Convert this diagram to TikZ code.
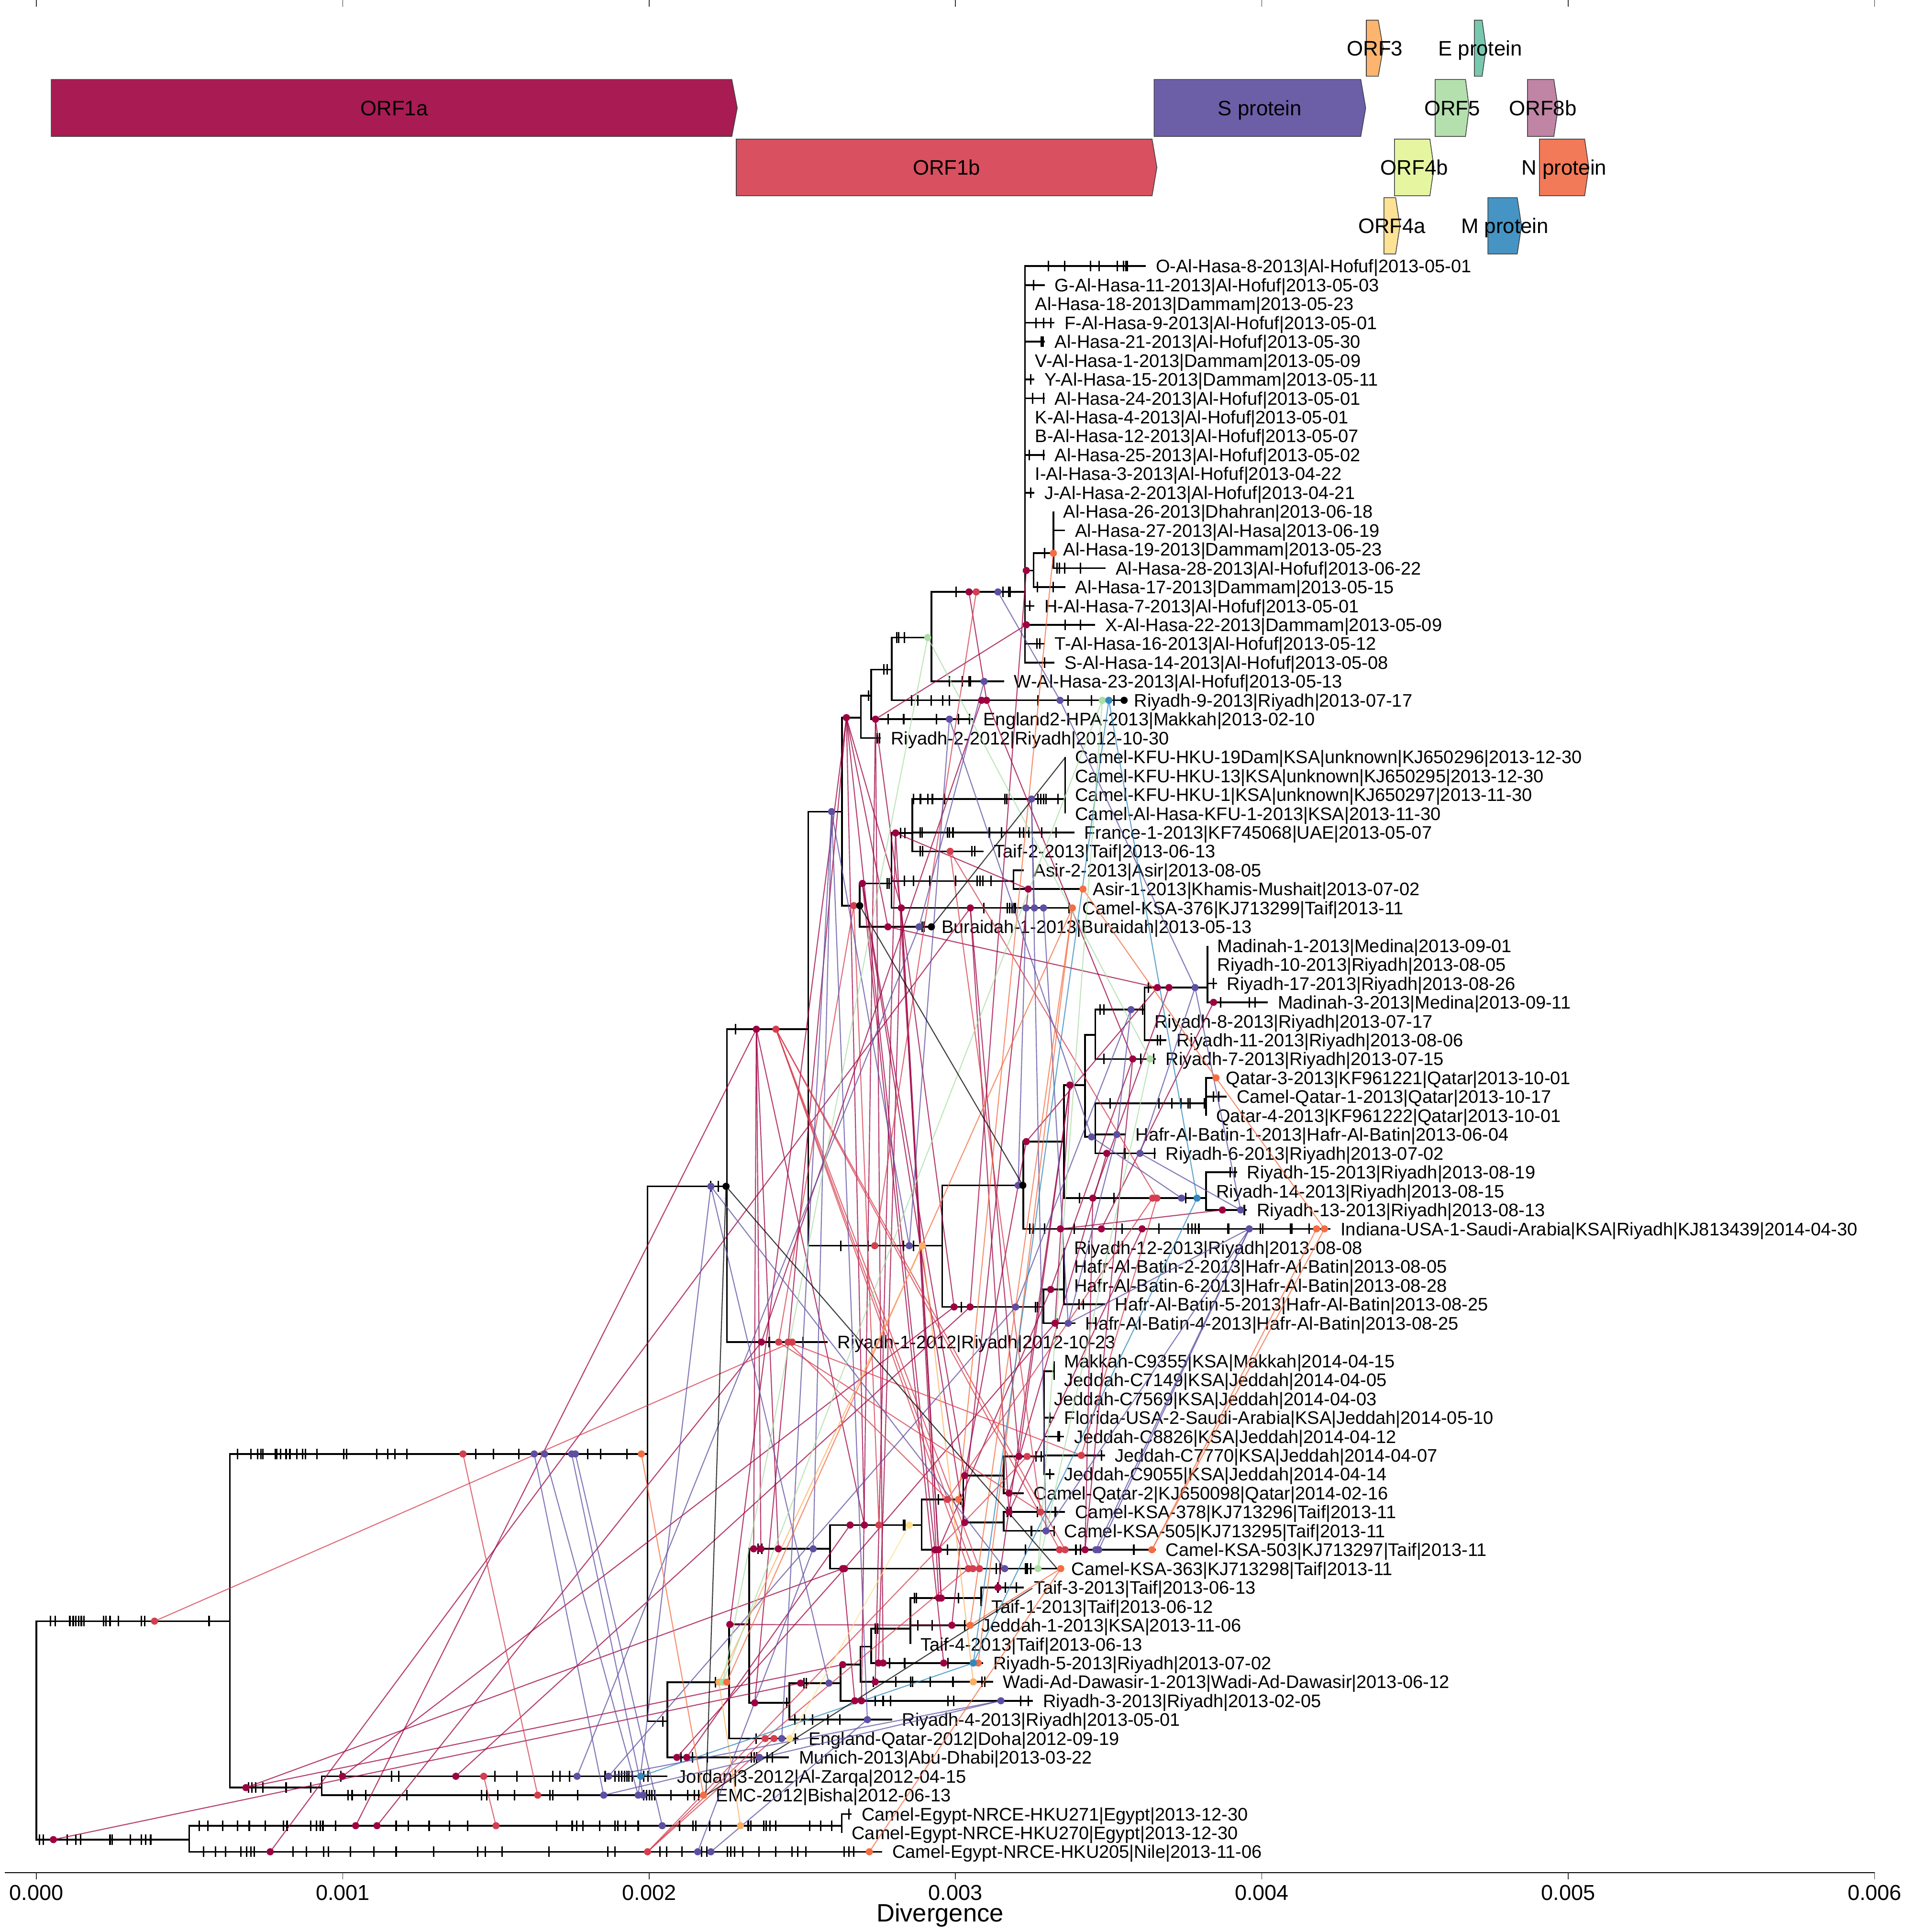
\documentclass[tikz,border=0pt]{standalone}
\usepackage{fontspec}
\setmainfont{Liberation Sans}
\definecolor{cA}{HTML}{9E0142}
\definecolor{cB}{HTML}{D53E4F}
\definecolor{cN}{HTML}{F46D43}
\definecolor{cO3}{HTML}{FDAE61}
\definecolor{cO4a}{HTML}{FEE08B}
\definecolor{cO5}{HTML}{ABDDA4}
\definecolor{cE}{HTML}{66C2A5}
\definecolor{cM}{HTML}{3288BD}
\definecolor{cS}{HTML}{5E4FA2}
\definecolor{gORFa}{HTML}{A81B53}
\definecolor{gORFb}{HTML}{D95060}
\definecolor{gS}{HTML}{6C5FA8}
\definecolor{gORFthree}{HTML}{FCB46E}
\definecolor{gE}{HTML}{78C8AF}
\definecolor{gORFfive}{HTML}{B4E0AE}
\definecolor{gORFeight}{HTML}{C084A4}
\definecolor{gORFfourb}{HTML}{E6F5A0}
\definecolor{gN}{HTML}{F27A58}
\definecolor{gORFfoura}{HTML}{FDE296}
\definecolor{gM}{HTML}{4694C4}
\newcommand\tks[2]{\foreach \xx in {#2}{\draw[tk] (\xx,#1-4.3) -- (\xx,#1+4.3);}}
\newcommand\genebox[8]{\draw[gene,fill=#2] (#3,#6) -- (#4,#6) -- (#5,{(#6+#7)/2}) -- (#4,#7) -- (#3,#7) -- cycle;
  \node[glab] (#1) at ({(#3+#5)/2},{(#6+#7)/2+6.1}) {#8};}
\begin{document}
\begin{tikzpicture}[x=1pt,y=-1pt,
  br/.style={line width=1.4pt},
  tk/.style={line width=1.2pt},
  tl/.style={anchor=base west, inner sep=0pt, xshift=8pt, yshift=-5.3pt, font=\fontsize{14.75}{16}\selectfont},
  ln/.style={draw=#1, line width=0.85pt, opacity=0.75},
  gene/.style={draw=black!75, line width=0.6pt},
  glab/.style={font=\fontsize{17}{19}\selectfont, anchor=base, inner sep=0pt},
  axl/.style={font=\fontsize{17.5}{19}\selectfont, anchor=base, inner sep=0pt}
]
\useasboundingbox (0,0) rectangle (1546,1568);
% ---------------- gene map
\genebox{gA}{gORFa}{41.6}{594}{598.4}{64.5}{110.7}{ORF1a}
\genebox{gB}{gORFb}{597.6}{935.1}{939}{112.9}{158.9}{ORF1b}
\genebox{gSp}{gS}{936.7}{1104.5}{1108.5}{64.5}{110.7}{S protein}
\draw[gene,fill=gORFthree] (1109,16.4) -- (1118.7,16.4) -- (1122.7,39.15) -- (1118.7,61.9) -- (1109,61.9) -- cycle;
\draw[gene,fill=gE] (1196.7,16.4) -- (1203,16.4) -- (1206.2,39.15) -- (1203,61.9) -- (1196.7,61.9) -- cycle;
\draw[gene,fill=gORFfive] (1164.9,64.5) -- (1189.5,64.5) -- (1192.5,87.6) -- (1189.5,110.7) -- (1164.9,110.7) -- cycle;
\draw[gene,fill=gORFeight] (1239.8,64.5) -- (1261.2,64.5) -- (1264.7,87.6) -- (1261.2,110.7) -- (1239.8,110.7) -- cycle;
\draw[gene,fill=gORFfourb] (1131.9,112.9) -- (1160.6,112.9) -- (1163.9,135.9) -- (1160.6,158.9) -- (1131.9,158.9) -- cycle;
\draw[gene,fill=gN] (1249.5,112.9) -- (1286.2,112.9) -- (1289.6,135.9) -- (1286.2,158.9) -- (1249.5,158.9) -- cycle;
\draw[gene,fill=gORFfoura] (1123.3,160.4) -- (1132.8,160.4) -- (1136.3,183.25) -- (1132.8,206.1) -- (1123.3,206.1) -- cycle;
\draw[gene,fill=gM] (1207.7,160.4) -- (1231.5,160.4) -- (1235,183.25) -- (1231.5,206.1) -- (1207.7,206.1) -- cycle;
\node[glab] (gO3) at (1115.9,45.3) {ORF3};
\node[glab] (gEp) at (1201.4,45.3) {E protein};
\node[glab] (gO5) at (1178.7,93.7) {ORF5};
\node[glab] (gO8) at (1252.3,93.7) {ORF8b};
\node[glab] (gO4b) at (1147.9,142) {ORF4b};
\node[glab] (gNp) at (1269.6,142) {N protein};
\node[glab] (gO4a) at (1129.8,189.4) {ORF4a};
\node[glab] (gMp) at (1221.4,189.4) {M protein};
% ---------------- axis
\draw[line width=0.8pt] (4,1520) -- (1521.6,1520);
\foreach \ax/\al in {29.5/0.000,278.2/0.001,526.9/0.002,775.5/0.003,1024.2/0.004,1272.9/0.005,1521.6/0.006}{
  \draw[line width=0.6pt,black!80] (\ax,1520) -- (\ax,1525.4);
  \draw[line width=0.6pt,black!80] (\ax,0) -- (\ax,5.4);
  \node[axl] at (\ax,1542) {\al};}
\node[font=\fontsize{20.4}{22}\selectfont, anchor=base, inner sep=0pt] (xlab) at (763,1559.5) {Divergence};
% ---------------- internal nodes
\coordinate (root) at (29.5,1404);
\coordinate (nA) at (186.6,1315.7);
\coordinate (nEg) at (153.6,1493);
\coordinate (nJE) at (261.2,1450.8);
\coordinate (nEgb) at (683.2,1481.7);
\coordinate (nB) at (525.6,1180);
\coordinate (nC) at (590,962.8);
\coordinate (nD) at (541.6,1397);
\coordinate (nE) at (656,835.3);
\coordinate (nF) at (683.4,658.7);
\coordinate (nG) at (764.7,1011);
\coordinate (nH) at (698.8,582.4);
\coordinate (nI) at (707,564.6);
\coordinate (nJ) at (723.7,543.4);
\coordinate (nK) at (756,517.4);
\coordinate (nAH) at (832,480.4);
\coordinate (nAHb) at (839,463);
\coordinate (nAHc) at (855,449);
\coordinate (nL) at (697.8,735);
\coordinate (nM) at (723.6,717);
\coordinate (nN) at (740.4,676);
\coordinate (nKFU) at (864.5,648.5);
\coordinate (nAsir) at (822.6,715);
\coordinate (nO) at (830.5,962);
\coordinate (nP) at (863.6,926.5);
\coordinate (nQ) at (880.7,880.6);
\coordinate (nR) at (889,839.8);
\coordinate (nS) at (929,819.4);
\coordinate (nT) at (980,801.5);
\coordinate (nU) at (889,922.7);
\coordinate (nV) at (979,895.4);
\coordinate (nW) at (979,972.4);
\coordinate (nX) at (846.9,1060.7);
\coordinate (nY) at (863.6,1046.5);
\coordinate (nZ) at (591.8,1365.2);
\coordinate (nZb) at (608,1318.4);
\coordinate (nZc) at (673.6,1257);
\coordinate (nZd) at (640.8,1382);
\coordinate (nZe) at (682.3,1366);
\coordinate (nZf) at (698.3,1351);
\coordinate (nZg) at (707.2,1336.3);
\coordinate (nZh) at (739,1321.7);
\coordinate (nZi) at (796.5,1297);
\coordinate (nJa) at (748,1237.7);
\coordinate (nJb) at (781.8,1216.9);
\coordinate (nJc) at (814.6,1197.6);
\coordinate (nJd) at (847.5,1182);
\coordinate (nJe) at (855.7,1112.8);
\coordinate (nJf) at (814.6,1235.7);
\foreach \pp/\cc in {root/nA,root/nEg,nA/nJE,nA/nB,nEg/nEgb,nB/nC,nB/nD,nC/nE,nE/nF,nE/nG,nF/nH,nH/nI,nI/nJ,nJ/nK,nK/nAH,nAH/nAHb,nAHb/nAHc,
  nF/nL,nL/nM,nM/nN,nN/nKFU,nM/nAsir,nG/nO,nO/nP,nP/nQ,nQ/nR,nR/nS,nS/nT,nQ/nU,nU/nV,nP/nW,nG/nX,nX/nY,
  nD/nZ,nZ/nZb,nZb/nZc,nZb/nZd,nZd/nZe,nZe/nZf,nZf/nZg,nZg/nZh,nZh/nZi,nZc/nJa,nJa/nJb,nJb/nJc,nJc/nJd,nJd/nJe,nJb/nJf}
  {\draw[br] (\pp) |- (\cc);}
% ---------------- tips
\foreach \k/\tx/\pp in {1/930/nAH,2/848/nAH,3/832/nAH,4/856/nAH,5/848/nAH,6/832/nAH,7/839.6/nAH,8/848/nAH,9/832/nAH,10/832/nAH,
  11/848/nAH,12/832/nAH,13/839.6/nAH,14/855/nAHc,15/864.5/nAHc,16/855/nAHc,17/897.5/nAHc,18/864.6/nAHb,19/839.6/nAH,20/889/nAH,
  21/848/nAH,22/856/nAH,23/815/nK,24/912.4/nJ,25/790/nI,26/715/nH,27/864.5/nKFU,28/864.5/nKFU,29/864.5/nKFU,30/864.5/nKFU,
  31/872/nN,32/798.5/nN,33/830.8/nAsir,34/879/nAsir,35/870.4/nM,36/756/nL,37/980/nT,38/980/nT,39/987.8/nT,40/1029/nT,
  41/929/nS,42/946.7/nS,43/938/nR,44/987/nV,45/995.7/nV,46/979/nV,47/913.5/nU,48/938/nU,49/1004/nW,50/979/nW,
  51/1012/nW,52/1080/nO,53/863.6/nY,54/863.6/nY,55/863.6/nY,56/896.8/nY,57/872.8/nX,58/671.6/nC,59/855.7/nJe,60/855.7/nJe,
  61/847.5/nJd,62/855.7/nJd,63/863.7/nJd,64/896.8/nJd,65/855.7/nJd,66/830.8/nJc,67/864.5/nJf,68/855.7/nJf,69/938/nJa,70/861.6/nZc,
  71/831/nZi,72/796.5/nZi,73/788.5/nZh,74/739/nZh,75/798/nZg,76/806/nZf,77/838.5/nZe,78/724/nZd,79/648.2/nZ,80/640.3/nD,
  81/541.6/nJE,82/573/nJE,83/691.3/nEgb,84/683.2/nEgb,85/716/nEg}
  {\coordinate (t\k) at (\tx,{216+(\k-1)*15.32});
   \draw[br] (\pp) |- (t\k);}
% ---------------- mutation ticks
\tks{216}{851,864,885,892,907,912,914,915}
\tks{231.32}{839}
\tks{261.96}{841,847,853}
\tks{277.28}{845,846.5}
\tks{307.92}{836.5}
\tks{323.24}{838,847}
\tks{369.2}{835.5,847}
\tks{399.84}{836.5}
\tks{449}{848}
\tks{461.12}{858,860,864,877}
\tks{476.44}{842,855}
\tks{491.76}{836}
\tks{507.08}{864.5,877}
\tks{522.4}{841.6,844}
\tks{537.72}{848}
\tks{480.4}{776,814,818.6,820}
\tks{553.04}{770.6,781,786.5,787.5}
\tks{517.4}{728,729.5,734}
\tks{568.36}{740,745,756,765,770.6,842.6,867,886,904}
\tks{543.4}{717.5,720}
\tks{583.68}{721,733.5,760,778,787}
\tks{564.6}{705}
\tks{599}{711.8,713.9}
\tks{717}{720,721.5}
\tks{676}{731,734.5}
\tks{648.5}{741.3,747.1,753,756.8,766.8,815.5,817.3,842.5,844.6,847,849,858.7}
\tks{675.6}{747,748.6,769,770.6,773.5,803,813,827.8,830.8,835.2,845.5,857.2}
\tks{690.92}{747,749,789,791}
\tks{715}{734,741.3,754.5,775.6,793.2,795.6,797.6,804.4}
\tks{736.88}{798.5,817.6,819.6,821.4,822.9,824.3,867.5}
\tks{752.2}{748.6,750}
\tks{1011}{682.6,704.6,733.3,741.3}
\tks{819.4}{893,896,927.6}
\tks{801.5}{932}
\tks{798.16}{985}
\tks{813.48}{990.7,1014,1018.6}
\tks{844.12}{939.4,941.7}
\tks{859.44}{896,926,936.5}
\tks{895.4}{901,940.8,951,958.5,964.3,965.8,977.5}
\tks{890.08}{985,989.3}
\tks{936.04}{913,937}
\tks{972.4}{876.3,904,962.3}
\tks{951.36}{998.7,1002.5}
\tks{982}{1010}
\tks{997.32}{836,838.4,847.8,871.9,910.6,940.8,964.3,967.3,970.2,973.1,996.6,997.5,1023,1025,1047.4,1048.6,1062.7}
\tks{1060.7}{780.3,840.5,842}
\tks{1058.6}{875.7,879.2}
\tks{1073.92}{858}
\tks{962.8}{577,583}
\tks{835.3}{597}
\tks{1089.24}{624.4,651.8}
\tks{1180}{192.9,203.6,209,211.7,213.4,223.3,224.6,227.7,232.2,235.3,241.1,245.6,247.8,257.2,279,281.3,305.9,314.8,320.6,330.4,386.2,400.5,421,477,487.6,509}
\tks{1397}{538}
\tks{1365.2}{580.6}
\tks{1426.28}{552.6,562.2,574,610,612.2,614.1,622.7,626.9}
\tks{1410.96}{613.8,645.5}
\tks{1257}{615.3,618.4}
\tks{1382}{638.5}
\tks{1366}{652.4,654.6}
\tks{1395.64}{645,653,659.4,672,681.7}
\tks{1380.32}{710.4,716.8,723,769.4,774,828.3,834.7}
\tks{1365}{708.8,727,739,740.7,755,773.5,797,799.5}
\tks{1349.68}{722,734.3,769.4}
\tks{1321.7}{710.4,712.3}
\tks{1297}{742.3,743.9,778}
\tks{1288.4}{810,816,825}
\tks{1319.04}{744.8,756.6,783}
\tks{1237.7}{733.3,734.5}
\tks{1216.9}{761.8,779.4}
\tks{1182}{841,845}
\tks{1181.16}{894}
\tks{1150.52}{852}
\tks{1196.48}{852}
\tks{1165.84}{858.7,860}
\tks{1227.12}{817.6,820.5,842,856.6}
\tks{1242.44}{837.2,855.7}
\tks{1257.76}{769,832.2,873.3,877,920.3}
\tks{1273.08}{808.8,811.7,832.2,833.7,836.6}
\tks{1472.24}{689}
\tks{1315.7}{41,44.7,56.7,59.4,61.6,63.9,66,68.3,84,86,89.3,96,114.8,117.4,169.7}
\tks{1493}{32,35.3,54.5,61.6,65.6,89.3,91,105.8,114.8,118.3,122.3}
\tks{1450.8}{201.8,204.5,207.6,213.4,232.2,252.3}
\tks{1441.6}{276.8,318,323.7,401.8,419.7,448.7,454.6,462.2,491.2,499.2,502.3,504.6,506.8,509,510.4,513,522.4,526}
\tks{1456.92}{282.6,285.8,297,330.4,390.7,395.2,404.1,417.5,446.5,448.7,468.8,522.4,524.7,527,529.1,531.4,544.6,558.2,563.8,567}
\tks{1481.7}{161.6,168.8,180.8,192.9,202.3,215.2,230,233,252.3,256.8,259.9,262.1,272.4,321.5,331.3,348.3,364.8,379.5,451.9,464.4,468,473.3,486.7,499.2,501.4,507.7,518,551.5,562.6,564.9,576,585,607.3,609.5,619.8,622,625.1,629.6,657.3,666.2,675.1}
\tks{1502.88}{165.2,175,183,195.6,200,203.6,206.3,238,248.7,262.6,266.6,284.4,303.6,321.5,351.9,387.6,393.8,407.7,445.6,493.4,499.2,535.8,541.2,553.7,569.3,573.8,590.3,593,596.1,602.8,616.2,629.6,643,647.5,654.1,685,689,692.9}
% ---------------- tip labels
\node[tl] (L1) at (t1) {O-Al-Hasa-8-2013|Al-Hofuf|2013-05-01};
\node[tl] (L2) at (t2) {G-Al-Hasa-11-2013|Al-Hofuf|2013-05-03};
\node[tl] (L3) at (t3) {Al-Hasa-18-2013|Dammam|2013-05-23};
\node[tl] (L4) at (t4) {F-Al-Hasa-9-2013|Al-Hofuf|2013-05-01};
\node[tl] (L5) at (t5) {Al-Hasa-21-2013|Al-Hofuf|2013-05-30};
\node[tl] (L6) at (t6) {V-Al-Hasa-1-2013|Dammam|2013-05-09};
\node[tl] (L7) at (t7) {Y-Al-Hasa-15-2013|Dammam|2013-05-11};
\node[tl] (L8) at (t8) {Al-Hasa-24-2013|Al-Hofuf|2013-05-01};
\node[tl] (L9) at (t9) {K-Al-Hasa-4-2013|Al-Hofuf|2013-05-01};
\node[tl] (L10) at (t10) {B-Al-Hasa-12-2013|Al-Hofuf|2013-05-07};
\node[tl] (L11) at (t11) {Al-Hasa-25-2013|Al-Hofuf|2013-05-02};
\node[tl] (L12) at (t12) {I-Al-Hasa-3-2013|Al-Hofuf|2013-04-22};
\node[tl] (L13) at (t13) {J-Al-Hasa-2-2013|Al-Hofuf|2013-04-21};
\node[tl] (L14) at (t14) {Al-Hasa-26-2013|Dhahran|2013-06-18};
\node[tl] (L15) at (t15) {Al-Hasa-27-2013|Al-Hasa|2013-06-19};
\node[tl] (L16) at (t16) {Al-Hasa-19-2013|Dammam|2013-05-23};
\node[tl] (L17) at (t17) {Al-Hasa-28-2013|Al-Hofuf|2013-06-22};
\node[tl] (L18) at (t18) {Al-Hasa-17-2013|Dammam|2013-05-15};
\node[tl] (L19) at (t19) {H-Al-Hasa-7-2013|Al-Hofuf|2013-05-01};
\node[tl] (L20) at (t20) {X-Al-Hasa-22-2013|Dammam|2013-05-09};
\node[tl] (L21) at (t21) {T-Al-Hasa-16-2013|Al-Hofuf|2013-05-12};
\node[tl] (L22) at (t22) {S-Al-Hasa-14-2013|Al-Hofuf|2013-05-08};
\node[tl] (L23) at (t23) {W-Al-Hasa-23-2013|Al-Hofuf|2013-05-13};
\node[tl] (L24) at (t24) {Riyadh-9-2013|Riyadh|2013-07-17};
\node[tl] (L25) at (t25) {England2-HPA-2013|Makkah|2013-02-10};
\node[tl] (L26) at (t26) {Riyadh-2-2012|Riyadh|2012-10-30};
\node[tl] (L27) at (t27) {Camel-KFU-HKU-19Dam|KSA|unknown|KJ650296|2013-12-30};
\node[tl] (L28) at (t28) {Camel-KFU-HKU-13|KSA|unknown|KJ650295|2013-12-30};
\node[tl] (L29) at (t29) {Camel-KFU-HKU-1|KSA|unknown|KJ650297|2013-11-30};
\node[tl] (L30) at (t30) {Camel-Al-Hasa-KFU-1-2013|KSA|2013-11-30};
\node[tl] (L31) at (t31) {France-1-2013|KF745068|UAE|2013-05-07};
\node[tl] (L32) at (t32) {Taif-2-2013|Taif|2013-06-13};
\node[tl] (L33) at (t33) {Asir-2-2013|Asir|2013-08-05};
\node[tl] (L34) at (t34) {Asir-1-2013|Khamis-Mushait|2013-07-02};
\node[tl] (L35) at (t35) {Camel-KSA-376|KJ713299|Taif|2013-11};
\node[tl] (L36) at (t36) {Buraidah-1-2013|Buraidah|2013-05-13};
\node[tl] (L37) at (t37) {Madinah-1-2013|Medina|2013-09-01};
\node[tl] (L38) at (t38) {Riyadh-10-2013|Riyadh|2013-08-05};
\node[tl] (L39) at (t39) {Riyadh-17-2013|Riyadh|2013-08-26};
\node[tl] (L40) at (t40) {Madinah-3-2013|Medina|2013-09-11};
\node[tl] (L41) at (t41) {Riyadh-8-2013|Riyadh|2013-07-17};
\node[tl] (L42) at (t42) {Riyadh-11-2013|Riyadh|2013-08-06};
\node[tl] (L43) at (t43) {Riyadh-7-2013|Riyadh|2013-07-15};
\node[tl] (L44) at (t44) {Qatar-3-2013|KF961221|Qatar|2013-10-01};
\node[tl] (L45) at (t45) {Camel-Qatar-1-2013|Qatar|2013-10-17};
\node[tl] (L46) at (t46) {Qatar-4-2013|KF961222|Qatar|2013-10-01};
\node[tl] (L47) at (t47) {Hafr-Al-Batin-1-2013|Hafr-Al-Batin|2013-06-04};
\node[tl] (L48) at (t48) {Riyadh-6-2013|Riyadh|2013-07-02};
\node[tl] (L49) at (t49) {Riyadh-15-2013|Riyadh|2013-08-19};
\node[tl] (L50) at (t50) {Riyadh-14-2013|Riyadh|2013-08-15};
\node[tl] (L51) at (t51) {Riyadh-13-2013|Riyadh|2013-08-13};
\node[tl] (L52) at (t52) {Indiana-USA-1-Saudi-Arabia|KSA|Riyadh|KJ813439|2014-04-30};
\node[tl] (L53) at (t53) {Riyadh-12-2013|Riyadh|2013-08-08};
\node[tl] (L54) at (t54) {Hafr-Al-Batin-2-2013|Hafr-Al-Batin|2013-08-05};
\node[tl] (L55) at (t55) {Hafr-Al-Batin-6-2013|Hafr-Al-Batin|2013-08-28};
\node[tl] (L56) at (t56) {Hafr-Al-Batin-5-2013|Hafr-Al-Batin|2013-08-25};
\node[tl] (L57) at (t57) {Hafr-Al-Batin-4-2013|Hafr-Al-Batin|2013-08-25};
\node[tl] (L58) at (t58) {Riyadh-1-2012|Riyadh|2012-10-23};
\node[tl] (L59) at (t59) {Makkah-C9355|KSA|Makkah|2014-04-15};
\node[tl] (L60) at (t60) {Jeddah-C7149|KSA|Jeddah|2014-04-05};
\node[tl] (L61) at (t61) {Jeddah-C7569|KSA|Jeddah|2014-04-03};
\node[tl] (L62) at (t62) {Florida-USA-2-Saudi-Arabia|KSA|Jeddah|2014-05-10};
\node[tl] (L63) at (t63) {Jeddah-C8826|KSA|Jeddah|2014-04-12};
\node[tl] (L64) at (t64) {Jeddah-C7770|KSA|Jeddah|2014-04-07};
\node[tl] (L65) at (t65) {Jeddah-C9055|KSA|Jeddah|2014-04-14};
\node[tl] (L66) at (t66) {Camel-Qatar-2|KJ650098|Qatar|2014-02-16};
\node[tl] (L67) at (t67) {Camel-KSA-378|KJ713296|Taif|2013-11};
\node[tl] (L68) at (t68) {Camel-KSA-505|KJ713295|Taif|2013-11};
\node[tl] (L69) at (t69) {Camel-KSA-503|KJ713297|Taif|2013-11};
\node[tl] (L70) at (t70) {Camel-KSA-363|KJ713298|Taif|2013-11};
\node[tl] (L71) at (t71) {Taif-3-2013|Taif|2013-06-13};
\node[tl] (L72) at (t72) {Taif-1-2013|Taif|2013-06-12};
\node[tl] (L73) at (t73) {Jeddah-1-2013|KSA|2013-11-06};
\node[tl] (L74) at (t74) {Taif-4-2013|Taif|2013-06-13};
\node[tl] (L75) at (t75) {Riyadh-5-2013|Riyadh|2013-07-02};
\node[tl] (L76) at (t76) {Wadi-Ad-Dawasir-1-2013|Wadi-Ad-Dawasir|2013-06-12};
\node[tl] (L77) at (t77) {Riyadh-3-2013|Riyadh|2013-02-05};
\node[tl] (L78) at (t78) {Riyadh-4-2013|Riyadh|2013-05-01};
\node[tl] (L79) at (t79) {England-Qatar-2012|Doha|2012-09-19};
\node[tl] (L80) at (t80) {Munich-2013|Abu-Dhabi|2013-03-22};
\node[tl] (L81) at (t81) {Jordan|3-2012|Al-Zarqa|2012-04-15};
\node[tl] (L82) at (t82) {EMC-2012|Bisha|2012-06-13};
\node[tl] (L83) at (t83) {Camel-Egypt-NRCE-HKU271|Egypt|2013-12-30};
\node[tl] (L84) at (t84) {Camel-Egypt-NRCE-HKU270|Egypt|2013-12-30};
\node[tl] (L85) at (t85) {Camel-Egypt-NRCE-HKU205|Nile|2013-11-06};
% ---------------- mutation dots (homoplasies)
\def\dotlist{a1/cA/786.5/480.4,b1/cB/792.4/480.4,s1/cS/810/480.4,a2/cA/833/463,n1/cN/855/449,a3/cA/833/507.08,g1/cO5/753/517.4,
s2/cS/798.8/553.04,a4/cA/796.7/568.36,a5/cA/800.8/568.36,s3/cS/860.4/568.36,g2/cO5/894.7/568.36,m1/cM/900/568.36,k1/black/912.4/568.36,
a6/cA/710.6/583.68,s4/cS/770.6/583.68,a7/cA/687/582.4,s5/cS/675/658.7,s9/cS/837.2/648.5,a9/cA/726.9/676,b2/cB/771.2/690.92,
a8/cA/700/717,a10/cA/834.6/721.56,n2/cN/879/721.56,b3/cB/693/735,k5/black/697.8/735,a11/cA/731.6/736.88,a12/cA/787.6/736.88,
s6/cS/832.8/736.88,s7/cS/839.6/736.88,s8/cS/847/736.88,n3/cN/870.4/736.88,a13/cA/720.7/752.2,s10/cS/746/752.2,k2/black/756/752.2,
a14/cA/939.4/801.5,a15/cA/948.8/801.5,s11/cS/970/801.5,a16/cA/985/813.48,s12/cS/918/819.4,a17/cA/919.4/859.44,g3/cO5/933.5/859.44,
a18/cA/868.4/880.6,n4/cN/987/874.76,s13/cS/886/922.7,s14/cS/906.5/920.72,a19/cA/898.3/936.04,s15/cS/925.3/936.04,
a20/cA/887/972.4,b4/cB/935.5/972.4,b5/cB/939/972.4,s16/cS/959/972.4,m2/cM/971.6/972.4,a21/cA/992.2/982,s17/cS/1007/982,
a22/cA/833/926.5,s18/cS/826.4/962,k3/black/830.2/962,a23/cA/860.7/997.32,a24/cA/894/997.32,a25/cA/927/997.32,s19/cS/1014/997.32,
n5/cN/1068.6/997.32,n6/cN/1075/997.32,b6/cB/710/1011,s20/cS/738/1011,o1/cO3/748.6/1011,a26/cA/774.4/1060.7,a27/cA/787.4/1060.7,
s21/cS/824.3/1060.7,a28/cA/852.8/1046.5,a29/cA/856.3/1073.92,s22/cS/867/1073.92,a30/cA/618/1089.24,b7/cB/632/1089.24,
b8/cB/639.7/1089.24,b9/cB/643/1089.24,a31/cA/613.9/835.3,b10/cB/629.8/835.3,s23/cS/577/962.8,k4/black/589.3/962.8,
b11/cB/375.8/1180,s24/cS/433.6/1180,s25/cS/442/1180,s26/cS/464/1180,s27b/cS/467/1180,n7/cN/520.6/1180,b12/cB/125.4/1315.7,
a32/cA/199.6/1450.8,a33/cA/278/1441.6,a34/cA/370/1441.6,b13/cB/392.6/1441.6,s27/cS/468.4/1441.6,s28/cS/494/1441.6,m3/cM/520/1441.6,
b14/cB/436.4/1456.92,s29/cS/490/1456.92,s30/cS/518/1456.92,s31/cS/522/1456.92,n8/cN/571/1456.92,a35/cA/43.3/1493,
a36/cA/288.7/1481.7,a37/cA/306/1481.7,b15/cB/402.6/1481.7,s32/cS/537.5/1481.7,o2/cO3/601/1481.7,a38/cA/219.3/1502.88,
b16/cB/525.6/1502.88,s33/cS/566.3/1502.88,s34/cS/577/1502.88,n9/cN/705.6/1502.88,o3/cO3/583.5/1365.2,g4/cO5/586.7/1365.2,
n10/cN/589.9/1365.2,a39/cA/549.4/1426.28,a40/cA/557.4/1426.28,s35/cS/616.4/1426.28,b17/cB/621.1/1410.96,b18/cB/628.2/1410.96,
s36/cS/634.5/1410.96,y1/cO4a/641/1410.96,a41/cA/592.4/1318.4,a42/cA/611.7/1257,a43/cA/617.6/1257,a44/cA/631.8/1257,s37/cS/660/1257,
a45/cA/612.6/1382,a46/cA/649.8/1366,s38/cS/672.8/1366,s39/cS/704/1395.64,a47/cA/684/1351,a48/cA/710.4/1365,o4/cO3/790/1365,
a49/cA/713/1349.68,a50/cA/716.8/1349.68,a51/cA/766/1349.68,m4/cM/790/1349.68,n11/cN/794/1349.68,a52/cA/772.6/1319.04,
n12/cN/787.5/1319.04,a53/cA/762/1297,a54/cA/764/1297,a55/cA/810/1288.4,a56/cA/690/1237.7,a57/cA/701.6/1237.7,b19/cB/713.4/1237.7,
y2/cO4a/738/1237.7,b20/cB/769/1216.9,n13/cN/778/1216.9,a58/cA/783/1197.6,a59/cA/827/1182,b21/cB/833.7/1182,b22/cB/877.7/1181.16,
a60/cA/819/1211.8,a61/cA/783/1235.7,a62/cA/819/1227.12,b23/cB/844.6/1227.12,s40/cS/849/1242.44,a63/cA/758.9/1257.76,
a64/cA/761.8/1257.76,b24/cB/860/1257.76,b25/cB/864.5/1257.76,a65/cA/880.7/1257.76,s41/cS/889.5/1257.76,s42/cS/891.8/1257.76,
n14/cN/935/1257.76,a66/cA/684/1273.08,a67/cA/685.5/1273.08,b26/cB/786/1273.08,b27/cB/789.7/1273.08,b28/cB/795/1273.08,
s43/cS/815.5/1273.08,g5/cO5/842.5/1273.08,n15/cN/861/1273.08,a68/cA/693.8/1380.32,a69/cA/699.2/1380.32,s44/cS/812.4/1380.32,
m5/cM/790/1349.68}
\foreach \dn/\dc/\dx/\dy in \dotlist {\coordinate (\dn) at (\dx,\dy);}
\coordinate (kA) at (864.5,615);
\coordinate (kB) at (858,1273.08);
\coordinate (kC) at (573,1456.92);
\coordinate (kD) at (838,1289);
% ---------------- homoplasy connectors
\foreach \cc/\uu/\vv in {cA/a35/a46,cA/a32/a47,cA/a32/a66,cA/a36/a31,cA/a37/a30,cA/a38/a12,cA/a33/a26,cA/a34/a27,cA/a39/a67,cA/a40/a56,
 cA/a7/a57,cA/a7/a63,cA/a7/a13,cA/a7/a11,cA/a7/a45,cA/a31/a42,cA/a31/a43,cA/a31/a44,cA/a31/a57,cA/a6/a26,cA/a6/a50,cA/a4/a30,
 cA/a1/a5,cA/a3/a6,cA/a2/a27,cA/a8/a61,cA/a8/a58,cA/a9/a10,cA/a13/a14,cA/a11/a49,cA/a11/a53,cA/a12/a62,cA/a15/a20,cA/a16/a24,
 cA/a17/a28,cA/a17/a65,cA/a18/a59,cA/a19/a60,cA/a21/a23,cA/a22/a58,cA/a25/a62,cA/a28/a64,cA/a29/a67,cA/a41/a7,cA/a48/a9,cA/a51/a8,
 cA/a52/a41,cA/a54/a11,cA/a55/a18,cA/a68/a66,cA/a69/a6,cA/a9/a54,cA/a10/a52,cA/a12/a59,cA/a14/a22,cA/a18/a29,cA/a20/a65,cA/a5/a17,
 cB/b12/b9,cB/b1/b6,cB/b10/b26,cB/b10/b27,cB/b10/b28,cB/b10/b24,cB/b10/b25,cB/b8/b20,cB/b11/b14,cB/b13/b15,cB/b16/b17,cB/b16/b21,
 cB/b16/b18,cB/b2/b5,cB/b3/b19,cB/b4/b20,cB/b22/b8,cB/b23/b7,cB/b17/b26,cB/b7/b3,cB/b2/b23,cB/b5/b22,
 cS/s23/s30,cS/s23/s38,cS/s23/s43,cS/s5/s20,cS/s5/s37,cS/s5/s39,cS/s5/s36,cS/s24/s29,cS/s25/s30,cS/s26/s31,cS/s27b/s32,cS/s27/s10,
 cS/s28/s21,cS/s33/s37,cS/s34/s39,cS/s1/s3,cS/s2/s10,cS/s4/s13,cS/s7/s9,cS/s6/s18,cS/s8/s22,cS/s11/s15,cS/s12/s14,cS/s17/s11,
 cS/s19/s22,cS/s19/s41,cS/s19/s42,cS/s40/s19,cS/s44/s28,cS/s29/s44,cS/s21/s12,cS/s9/s40,cS/s4/s20,cS/s13/s16,cS/s14/s22,cS/s15/s17,cS/s3/s11,
 cN/n1/n13,cN/n2/n4,cN/n3/n11,cN/n3/n12,cN/n3/n10,cN/n4/n6,cN/n5/n14,cN/n7/n8,cN/n9/n15,cN/n12/n15,cN/n6/n14,
 cO3/o2/o3,cO3/o3/o1,cO3/o1/o4,cM/m3/m4,cM/m1/m2,cM/m1/m5,cM/m2/m4,cO5/g1/g3,cO5/g2/g5,cO5/g2/g4,cO5/g3/g5,cO5/g1/g4,cO4a/y1/y2,
 black/k2/kA,black/k5/k3,black/k4/kB,black/k4/kC,black/kC/kD}
 {\draw[ln=\cc] (\uu) -- (\vv);}
\foreach \dn/\dc/\dx/\dy in \dotlist {\fill[\dc] (\dn) circle[radius=2.9pt];}
\end{tikzpicture}
\end{document}
